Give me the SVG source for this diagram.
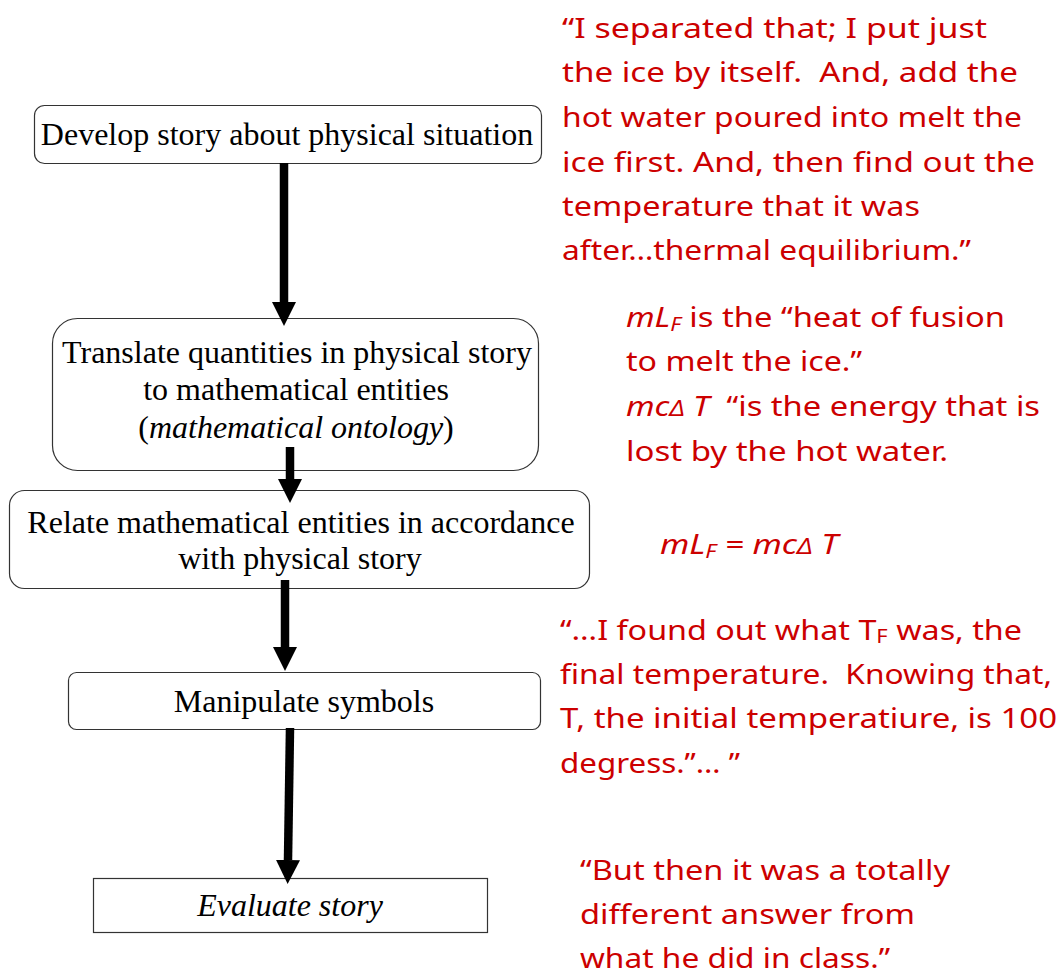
<svg xmlns="http://www.w3.org/2000/svg" width="1060" height="974" viewBox="0 0 1060 974">
<style>
.box{fill:#fff;stroke:#333;stroke-width:1.2}
.bt{font-family:"Liberation Serif","Times New Roman",serif;font-size:32px;fill:#000;text-anchor:middle}
.rt{font-family:"Noto Sans","DejaVu Sans",sans-serif;font-size:28px;fill:#cc0000;white-space:pre}
.it{font-style:italic}
.sub{font-size:19px}
.conn{stroke:#000;stroke-width:8.5;fill:none}
</style>
<defs>
<marker id="ah" markerUnits="userSpaceOnUse" markerWidth="24" markerHeight="24" refX="0" refY="12" orient="auto" viewBox="0 0 24 24">
<path d="M0,0 L24,12 L0,24 Z" fill="#000"/>
</marker>
</defs>
<rect width="1060" height="974" fill="#fff"/>

<g id="node-develop">
<rect class="box" x="34.5" y="105.5" width="507" height="58" rx="10"/>
<text class="bt" x="287" y="145">Develop story about physical situation</text>
</g>
<g id="node-translate">
<rect class="box" x="52.5" y="318.5" width="486" height="152" rx="25"/>
<text class="bt" x="297" y="363">Translate quantities in physical story</text>
<text class="bt" x="296" y="400">to mathematical entities</text>
<text class="bt" x="296" y="438">(<tspan class="it">mathematical ontology</tspan>)</text>
</g>
<g id="node-relate">
<rect class="box" x="9.5" y="490.5" width="580" height="98" rx="15"/>
<text class="bt" x="301" y="533">Relate mathematical entities in accordance</text>
<text class="bt" x="300" y="569">with physical story</text>
</g>
<g id="node-manipulate">
<rect class="box" x="68.5" y="672.5" width="472" height="57" rx="8"/>
<text class="bt" x="304" y="712">Manipulate symbols</text>
</g>
<g id="node-evaluate">
<rect class="box" x="93.5" y="878.5" width="394" height="54"/>
<text class="bt it" x="290" y="916">Evaluate story</text>
</g>

<g id="connectors">
<line class="conn" x1="284" y1="163" x2="284" y2="302" marker-end="url(#ah)"/>
<line class="conn" x1="290" y1="447" x2="290" y2="479" marker-end="url(#ah)"/>
<line class="conn" x1="285" y1="580" x2="285" y2="647" marker-end="url(#ah)"/>
<line class="conn" x1="290" y1="728" x2="288" y2="860" marker-end="url(#ah)"/>
</g>

<g id="quote-1">
<text class="rt" x="562" y="38" textLength="425" lengthAdjust="spacingAndGlyphs">“I separated that; I put just</text>
<text class="rt" x="562" y="82" textLength="456" lengthAdjust="spacingAndGlyphs" xml:space="preserve">the ice by itself.  And, add the</text>
<text class="rt" x="562" y="127" textLength="460" lengthAdjust="spacingAndGlyphs">hot water poured into melt the</text>
<text class="rt" x="562" y="172" textLength="473" lengthAdjust="spacingAndGlyphs">ice first. And, then find out the</text>
<text class="rt" x="562" y="216" textLength="358" lengthAdjust="spacingAndGlyphs">temperature that it was</text>
<text class="rt" x="562" y="260" textLength="409" lengthAdjust="spacingAndGlyphs">after…thermal equilibrium.”</text>
</g>

<g id="quote-2">
<text class="rt" x="626" y="327" textLength="379" lengthAdjust="spacingAndGlyphs"><tspan class="it">mL</tspan><tspan class="it sub" dy="4">F</tspan><tspan dy="-4"> is the “heat of fusion</tspan></text>
<text class="rt" x="626" y="371" textLength="236" lengthAdjust="spacingAndGlyphs">to melt the ice.”</text>
<text class="rt" x="626" y="416" textLength="414" lengthAdjust="spacingAndGlyphs" xml:space="preserve"><tspan class="it">mc</tspan><tspan class="it" font-size="22">Δ</tspan><tspan class="it"> T</tspan>  “is the energy that is</text>
<text class="rt" x="626" y="461" textLength="322" lengthAdjust="spacingAndGlyphs">lost by the hot water.</text>
<text class="rt" x="660" y="554" textLength="178" lengthAdjust="spacingAndGlyphs"><tspan class="it">mL</tspan><tspan class="it sub" dy="4">F</tspan><tspan class="it" dy="-4"> = mc</tspan><tspan class="it" font-size="22">Δ</tspan><tspan class="it"> T</tspan></text>
</g>

<g id="quote-3">
<text class="rt" x="560" y="640" textLength="462" lengthAdjust="spacingAndGlyphs">“…I found out what T<tspan class="sub" dy="3">F</tspan><tspan dy="-3"> was, the</tspan></text>
<text class="rt" x="560" y="684" textLength="492" lengthAdjust="spacingAndGlyphs" xml:space="preserve">final temperature.  Knowing that,</text>
<text class="rt" x="560" y="728" textLength="497" lengthAdjust="spacingAndGlyphs">T, the initial temperatiure, is 100</text>
<text class="rt" x="560" y="773" textLength="180" lengthAdjust="spacingAndGlyphs">degress.”… ”</text>
</g>

<g id="quote-4">
<text class="rt" x="580" y="880" textLength="370" lengthAdjust="spacingAndGlyphs">“But then it was a totally</text>
<text class="rt" x="580" y="924" textLength="335" lengthAdjust="spacingAndGlyphs">different answer from</text>
<text class="rt" x="580" y="968" textLength="310" lengthAdjust="spacingAndGlyphs">what he did in class.”</text>
</g>
</svg>
